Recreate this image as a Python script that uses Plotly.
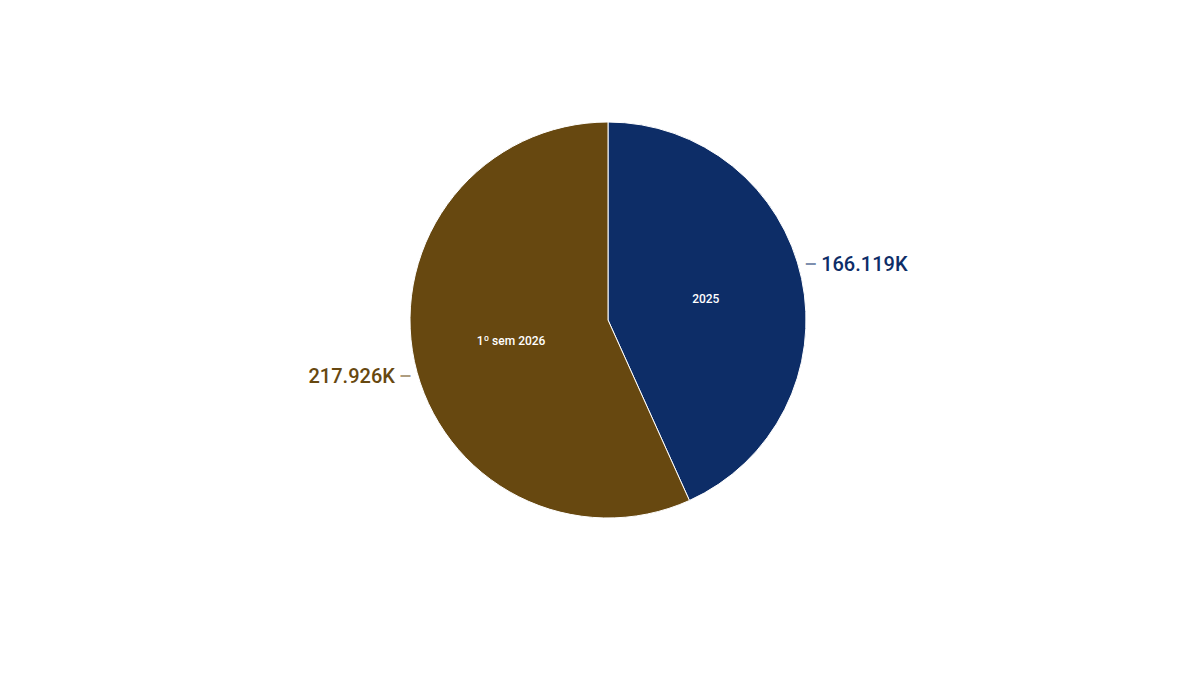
import plotly.graph_objects as go

categories = ["2025", "1º sem 2026"]
values = [166119, 217926]
value_labels = ["166.119K", "217.926K"]
colors = ["#0d2d67", "#674810"]
dash_colors = ["rgba(13,45,103,0.55)", "rgba(103,72,16,0.55)"]

# right-side slice label gets the leader dash before, left-side after
outside_text = [
    f'<span style="color:{dash_colors[0]}">–</span>\u2009{value_labels[0]}',
    f'{value_labels[1]}\u2009<span style="color:{dash_colors[1]}">–</span>',
]

fig = go.Figure()
fig.add_trace(go.Pie(
    labels=categories, values=values, sort=False, direction="clockwise", rotation=0,
    marker=dict(colors=colors, line=dict(color="#ffffff", width=1)),
    textinfo="label", textposition="inside", insidetextorientation="horizontal",
    textfont=dict(family="Roboto", size=12, color="#ffffff", weight=500),
    showlegend=False, hoverinfo="label+value",
))
fig.add_trace(go.Pie(
    labels=categories, values=values, sort=False, direction="clockwise", rotation=-4,
    marker=dict(colors=["rgba(0,0,0,0)"] * 2, line=dict(width=0)),
    text=outside_text, texttemplate="%{text}", textposition="outside",
    textfont=dict(family="Roboto", size=20, color=colors, weight=500),
    showlegend=False, hoverinfo="skip",
))
fig.update_layout(
    width=1200, height=675,
    margin=dict(l=0, r=8, t=114, b=165),
    paper_bgcolor="#ffffff", plot_bgcolor="#ffffff",
    font=dict(family="Roboto"),
)
fig.write_html("out.html")
